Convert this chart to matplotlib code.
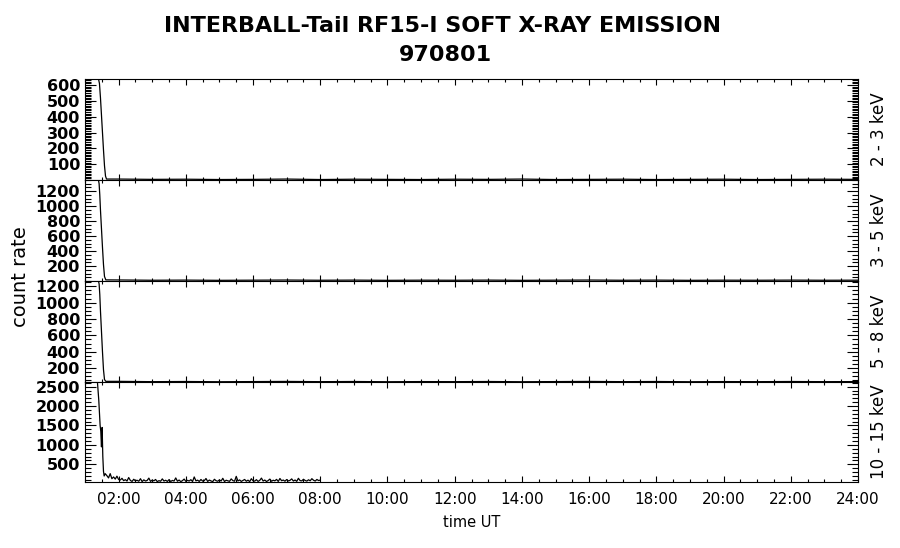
import matplotlib
matplotlib.use("Agg")
import matplotlib.pyplot as plt
from matplotlib.ticker import MultipleLocator, FuncFormatter
import numpy as np

# INTERBALL-Tail RF15-I, 1997-08-01, count rate per energy band

# decay at the start of the day (time in hours UT)
t_decay_1 = [1.40, 1.43, 1.46, 1.49, 1.52, 1.55, 1.58, 1.61, 1.64]
y_decay_1 = [640, 610, 520, 410, 300, 190, 90, 25, 6]
t_decay_2 = [1.40, 1.42, 1.44, 1.46, 1.49, 1.52, 1.55, 1.58, 1.62]
y_decay_2 = [1350, 1300, 1150, 950, 700, 450, 220, 60, 15]
t_decay_3 = [1.40, 1.42, 1.44, 1.46, 1.49, 1.52, 1.55, 1.58, 1.62]
y_decay_3 = [1265, 1230, 1100, 900, 650, 400, 180, 60, 38]
t_decay_4 = [1.37, 1.39, 1.41, 1.43, 1.45, 1.47, 1.49, 1.51, 1.53, 1.55, 1.57, 1.60]
y_decay_4 = [2620, 2400, 2150, 1800, 1500, 1350, 950, 1450, 700, 320, 200, 260]

# quiet level, hourly 02:00 .. 24:00 (three lower-energy bands)
t_tail = [2, 3, 4, 5, 6, 7, 8, 9, 10, 11, 12, 13, 14, 15, 16, 17, 18, 19, 20, 21, 22, 23, 24]
y_tail_1 = [6, 4, 5, 3, 4, 6, 3, 5, 4, 3, 5, 4, 6, 3, 4, 5, 3, 4, 5, 3, 4, 5, 4]
y_tail_2 = [14, 10, 12, 9, 11, 13, 10, 12, 9, 11, 10, 12, 9, 11, 13, 10, 12, 9, 11, 10, 12, 10, 11]
y_tail_3 = [38, 34, 36, 33, 35, 37, 34, 36, 33, 35, 34, 36, 33, 35, 37, 34, 36, 33, 35, 34, 36, 34, 35]

# 10-15 keV background, every 3 min from 01:39 to 08:00
t_noise_4 = np.round(1.65 + 0.05 * np.arange(128), 3)
y_noise_4 = [210, 150, 260, 130, 175, 120, 195, 110,
             95, 140, 80, 105, 70, 160, 85, 60, 115, 75,
             90, 65, 130, 55, 100, 70, 85, 145, 60, 95,
             75, 110, 55, 80, 65, 125, 70, 90, 60, 105,
             58, 85, 70, 150, 65, 95, 55, 80, 120, 62,
             88, 70, 105, 57, 175, 75, 92, 60, 110, 68,
             80, 135, 60, 95, 72, 55, 115, 78, 65, 100,
             70, 140, 58, 90, 75, 62, 125, 80, 66, 190,
             72, 98, 60, 84, 110, 65, 92, 55, 130, 75,
             68, 105, 60, 88, 145, 70, 95, 58, 82, 120,
             64, 90, 75, 112, 60, 135, 78, 95, 66, 108,
             72, 88, 125, 70, 96, 62, 140, 80, 74, 115,
             85, 68, 102, 76, 130, 90, 70, 110, 82, 95]

band_labels = ["2 - 3 keV", "3 - 5 keV", "5 - 8 keV", "10 - 15 keV"]
y_limits = [(0, 638), (0, 1350), (30, 1265), (45, 2620)]
y_major = [np.arange(100, 700, 100), np.arange(200, 1400, 200),
           np.arange(200, 1400, 200), np.arange(500, 3000, 500)]
y_minor = [10, 50, 50, 100]

series_t = [t_decay_1 + t_tail, t_decay_2 + t_tail, t_decay_3 + t_tail,
            t_decay_4 + list(t_noise_4)]
series_y = [y_decay_1 + y_tail_1, y_decay_2 + y_tail_2, y_decay_3 + y_tail_3,
            y_decay_4 + y_noise_4]

fig = plt.figure(figsize=(9, 5.48), dpi=100)

left, width = 85 / 900, 773 / 900
edges = [79, 180, 281, 382, 482]   # panel borders, pixels from the top

axes = []
for i in range(4):
    bottom = 1 - edges[i + 1] / 548
    height = (edges[i + 1] - edges[i]) / 548
    ax = fig.add_axes([left, bottom, width, height])
    ax.plot(series_t[i], series_y[i], color="black", lw=0.9)

    ax.set_xlim(1, 24)
    ax.set_ylim(*y_limits[i])
    ax.xaxis.set_major_locator(MultipleLocator(2))
    ax.xaxis.set_minor_locator(MultipleLocator(0.5))
    ax.set_yticks(y_major[i])
    ax.yaxis.set_minor_locator(MultipleLocator(y_minor[i]))

    ax.tick_params(which="both", direction="in", top=True, right=True, width=0.8)
    ax.tick_params(axis="x", which="major", length=4.5)
    ax.tick_params(axis="x", which="minor", length=2)
    ax.tick_params(axis="y", which="major", length=8, pad=3.5, labelsize=11.5)
    ax.tick_params(axis="y", which="minor", length=4)
    for lab in ax.get_yticklabels():
        lab.set_fontfamily("DejaVu Sans")
        lab.set_fontweight("bold")
    for sp in ax.spines.values():
        sp.set_linewidth(0.8)

    if i < 3:
        ax.set_xticklabels([])
    else:
        ax.xaxis.set_major_formatter(FuncFormatter(lambda v, p: "%02d:00" % v))
        ax.tick_params(axis="x", which="major", pad=7, labelsize=11)
        ax.set_xlabel("time UT", fontsize=10.5, labelpad=6)

    # band name on the right side
    ymid = 1 - (edges[i] + edges[i + 1]) / 2 / 548
    fig.text(879 / 900, ymid, band_labels[i], rotation=90, fontsize=12,
             ha="center", va="center")
    axes.append(ax)

fig.text(21 / 900, 1 - 277 / 548, "count rate", rotation=90, fontsize=14,
         ha="center", va="center")

fig.text(443 / 900, 1 - 32.5 / 548, "INTERBALL-Tail RF15-I SOFT X-RAY EMISSION",
         fontsize=16, fontweight="bold", family="DejaVu Sans",
         ha="center", va="baseline")
fig.text(445 / 900, 1 - 61 / 548, "970801",
         fontsize=16, fontweight="bold", family="DejaVu Sans",
         ha="center", va="baseline")

fig.savefig("out.png", dpi=100)
